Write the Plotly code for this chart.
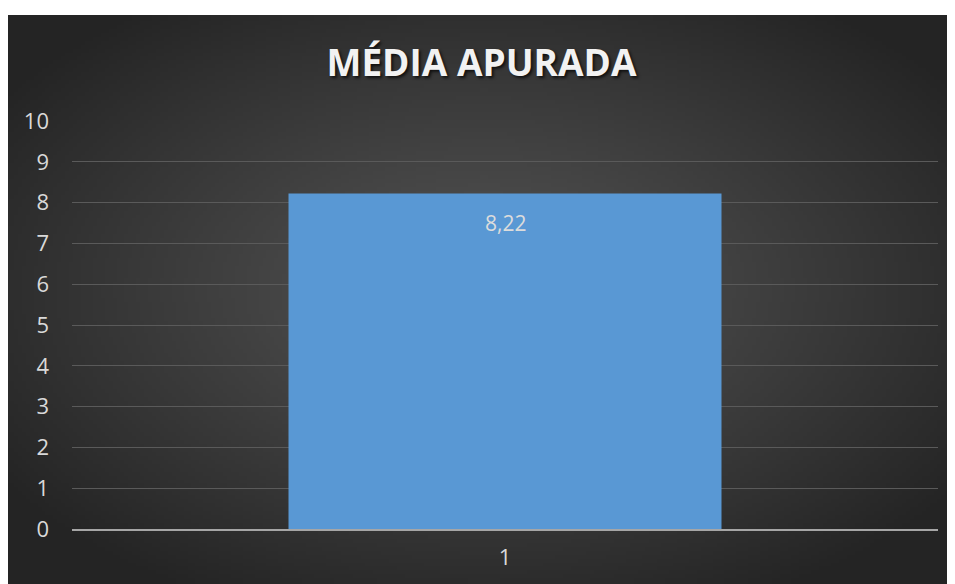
import base64, struct, zlib
import numpy as np
import plotly.graph_objects as go

categories = ["1"]
values = [8.22]
y_ticks = list(range(0, 11))
title_text = "MÉDIA APURADA"

# ---- radial gradient background (PNG data URI) ----
W, H = 240, 144
yy, xx = np.mgrid[0:H, 0:W]
cx, cy = W * 0.5, H * 0.48
d = np.sqrt(((xx - cx) / (W * 0.62)) ** 2 + ((yy - cy) / (H * 0.62)) ** 2)
inner, outer = 84, 36
v = inner + (outer - inner) * np.clip(d, 0, 1) ** 1.1
img = np.clip(v, 0, 255).astype(np.uint8)
raw = b"".join(b"\x00" + bytes(np.repeat(img[r][:, None], 3, axis=1).flatten()) for r in range(H))
def chunk(t, data):
    c = struct.pack(">I", len(data)) + t + data
    return c + struct.pack(">I", zlib.crc32(t + data) & 0xffffffff)
png = b"\x89PNG\r\n\x1a\n" + chunk(b"IHDR", struct.pack(">IIBBBBB", W, H, 8, 2, 0, 0, 0)) \
      + chunk(b"IDAT", zlib.compress(raw, 9)) + chunk(b"IEND", b"")
bg_uri = "data:image/png;base64," + base64.b64encode(png).decode()

FW, FH = 947, 576
fig = go.Figure()
fig.add_trace(go.Bar(
    x=categories, y=values, width=0.5,
    marker=dict(color="#5998D4", line=dict(width=0)),
    hoverinfo="skip",
))
for i, v_ in enumerate(values):
    fig.add_annotation(x=i, y=v_, xref="x", yref="y", text=f"{v_:.2f}".replace(".", ","),
                       showarrow=False, yanchor="middle", yshift=-29,
                       font=dict(family="Open Sans", size=21, color="#DCDCDC"))

plot_l, plot_r, plot_t, plot_b = 64, 930, 113, 521
pw, ph = plot_r - plot_l, plot_b - plot_t
fig.add_layout_image(dict(
    source=bg_uri, xref="paper", yref="paper",
    x=(0 - plot_l) / pw, y=(plot_b - 7) / ph,
    sizex=(FW - 0) / pw, sizey=(FH - 7) / ph,
    xanchor="left", yanchor="top", sizing="stretch", layer="below",
))

fig.update_layout(
    width=FW, height=FH,
    margin=dict(l=plot_l, r=FW - plot_r, t=plot_t, b=FH - plot_b),
    paper_bgcolor="white", plot_bgcolor="rgba(0,0,0,0)",
    showlegend=False,
    title=dict(text=f"<b>{title_text}</b>", x=0.5, xanchor="center", y=1 - 55 / FH, yanchor="middle",
               font=dict(family="Open Sans", size=37, color="#F2F2F2",
                         shadow="2px 2px 3px rgba(0,0,0,0.7)")),
)
fig.update_yaxes(range=[0, 10], tickvals=y_ticks, showgrid=True, gridcolor="#5A5A5A", gridwidth=1,
                 zeroline=False, showline=False, ticks="", ticklabelstandoff=22,
                 tickfont=dict(family="Open Sans", size=22, color="#D9D9D9"))
fig.update_xaxes(type="category", showgrid=False, showline=True, linecolor="#A6A6A6", linewidth=2,
                 ticks="", range=[-0.5, 0.5], ticklabelstandoff=8,
                 tickfont=dict(family="Open Sans", size=22, color="#D9D9D9"))
fig.write_html("out.html")
